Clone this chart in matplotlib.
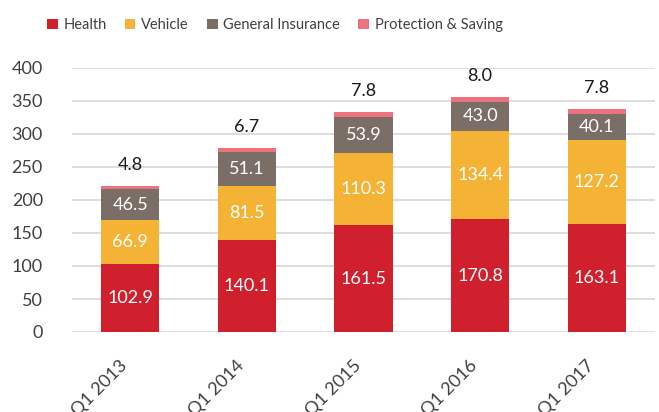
import matplotlib
matplotlib.use("Agg")
import matplotlib.pyplot as plt
import matplotlib.transforms as mtransforms
from matplotlib import font_manager
import numpy as np

categories = ["Q1 2013", "Q1 2014", "Q1 2015", "Q1 2016", "Q1 2017"]
health = [102.9, 140.1, 161.5, 170.8, 163.1]
vehicle = [66.9, 81.5, 110.3, 134.4, 127.2]
general = [46.5, 51.1, 53.9, 43.0, 40.1]
protection = [4.8, 6.7, 7.8, 8.0, 7.8]
series_names = ["Health", "Vehicle", "General Insurance", "Protection & Saving"]
colors = ["#D0202E", "#F5B335", "#7A6E66", "#EC737D"]

plt.rcParams['font.family'] = ['Lato', 'DejaVu Sans']

names = {f.name for f in font_manager.fontManager.ttflist}
if "Liberation Sans Narrow" in names:
    leg_font = {"family": ["Liberation Sans Narrow"], "size": 12.5}
else:
    leg_font = {"family": ["Lato"], "size": 10.5}

fig = plt.figure(figsize=(6.59, 4.12), dpi=100)
ax = fig.add_axes([72/659, 1-332/412, 583/659, 264/412])

x = np.arange(len(categories))
w = 0.5
bottom = np.zeros(len(categories))
all_series = [health, vehicle, general, protection]
for i, (vals, name, c) in enumerate(zip(all_series, series_names, colors)):
    vals = np.array(vals)
    ax.bar(x, vals, w, bottom=bottom, color=c, label=name, zorder=3)
    for xi, v, b in zip(x, vals, bottom):
        if i < 3:
            ax.text(xi, b + v/2, f"{v:.1f}", ha="center", va="center",
                    color="white", fontsize=13, zorder=4)
        else:
            ax.annotate(f"{v:.1f}", (xi, b + v), xytext=(0, 11.5),
                        textcoords="offset points", ha="center", va="baseline",
                        color="#1a1a1a", fontsize=13, zorder=4)
    bottom += vals

ax.set_ylim(0, 400)
ax.set_xlim(-0.5, len(categories)-0.5)
ax.set_yticks(range(0, 401, 50))
ax.yaxis.grid(True, color="#E0DCDA", linewidth=1.4, zorder=0)
ax.set_axisbelow(True)
for s in ax.spines.values():
    s.set_visible(False)
ax.tick_params(axis="both", length=0, colors="#404040", labelsize=13)
ax.tick_params(axis="y", pad=21)
ax.set_xticks(x)
ax.set_xticklabels(categories, rotation=45, ha="right", rotation_mode="anchor")
ax.tick_params(axis="x", pad=18)
offset = mtransforms.ScaledTranslation(-11/100, 0/100, fig.dpi_scale_trans)
for lbl in ax.get_xticklabels():
    lbl.set_transform(lbl.get_transform() + offset)

leg = fig.legend(loc="center left", bbox_to_anchor=(47/659, 1-25/412), ncol=4, frameon=False,
                 prop=leg_font, handlelength=0.72, handleheight=0.72, columnspacing=1.25,
                 handletextpad=0.4, labelcolor="#404040", borderaxespad=0, borderpad=0)
fig.savefig("out.png", dpi=100)
